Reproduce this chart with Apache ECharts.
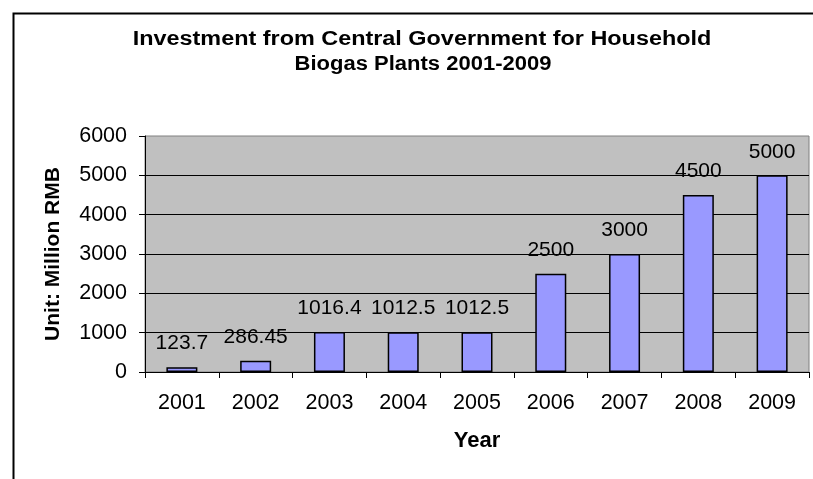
<!DOCTYPE html>
<html><head><meta charset="utf-8">
<script src="https://cdn.jsdelivr.net/npm/echarts@6/dist/echarts.min.js"></script>
<style>html,body{margin:0;padding:0;background:#fff}#c{width:813px;height:479px}</style>
</head><body><div id="c"></div>
<script>
const years = ['2001','2002','2003','2004','2005','2006','2007','2008','2009'];
const investment = [123.7, 286.45, 1016.4, 1012.5, 1012.5, 2500, 3000, 4500, 5000];
const yTicks = [0, 1000, 2000, 3000, 4000, 5000, 6000];
const titleLines = ['Investment from Central Government for Household', 'Biogas Plants 2001-2009'];

const F = 'Arial, "Liberation Sans", sans-serif';
const chart = echarts.init(document.getElementById('c'));
chart.setOption({
  animation: false,
  backgroundColor: '#fff',
  graphic: [{
    type: 'rect', left: 11, top: 11, shape: {x: 0, y: 0, width: 900, height: 600},
    style: {fill: 'none', stroke: '#000', lineWidth: 2}, silent: true, z: -1
  }, {
    type: 'text', x: 422, y: 39, scaleX: 1.17, silent: true,
    style: {text: titleLines[0], font: 'bold 20px ' + F, fill: '#000', align: 'center', verticalAlign: 'middle'}
  }, {
    type: 'text', x: 423, y: 64, scaleX: 1.10, silent: true,
    style: {text: titleLines[1], font: 'bold 20px ' + F, fill: '#000', align: 'center', verticalAlign: 'middle'}
  }],
  grid: {
    left: 145, right: 4, top: 136, bottom: 107, show: true,
    backgroundColor: '#C0C0C0', borderColor: '#808080', borderWidth: 1
  },
  xAxis: {
    type: 'category', data: years,
    name: 'Year', nameLocation: 'middle', nameGap: 58,
    nameTextStyle: {fontFamily: F, fontSize: 22, fontWeight: 'bold', color: '#000'},
    axisLine: {lineStyle: {color: '#000', width: 1}},
    axisTick: {show: true, length: 6, lineStyle: {color: '#000'}},
    axisLabel: {fontFamily: F, fontSize: 21.5, color: '#000', margin: 20}
  },
  yAxis: {
    type: 'value', min: yTicks[0], max: yTicks[yTicks.length - 1], interval: 1000,
    name: 'Unit: Million RMB', nameLocation: 'middle', nameGap: 81, nameRotate: 90,
    nameTextStyle: {fontFamily: F, fontSize: 21, fontWeight: 'bold', color: '#000'},
    axisLine: {show: true, lineStyle: {color: '#000', width: 1}},
    axisTick: {show: true, length: 6, lineStyle: {color: '#000'}},
    axisLabel: {fontFamily: F, fontSize: 21.5, color: '#000', margin: 18, formatter: v => String(v)},
    splitLine: {show: true, showMaxLine: false, lineStyle: {color: '#000', width: 1}}
  },
  series: [{
    type: 'bar', data: investment, barWidth: 31,
    itemStyle: {color: '#9999FF', borderColor: '#000', borderWidth: 1.5},
    label: {show: true, position: 'top', distance: 13, fontFamily: F, fontSize: 21, color: '#000'}
  }]
});
</script></body></html>
